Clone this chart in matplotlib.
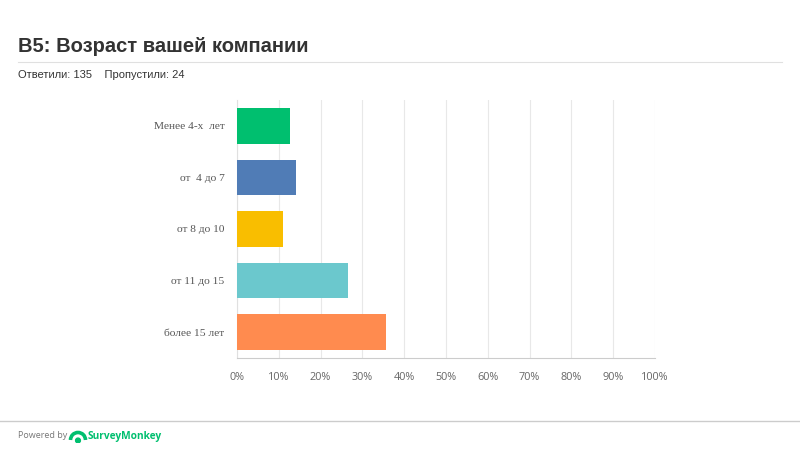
import matplotlib.pyplot as plt
from matplotlib.patches import Arc, Circle
import numpy as np

categories = ['Менее 4-х  лет', 'от  4 до 7', 'от 8 до 10', 'от 11 до 15', 'более 15 лет']
counts = [17, 19, 15, 36, 48]
answered = 135
skipped = 24
colors = ['#00BF6F', '#507CB6', '#F9BE00', '#6BC8CD', '#FF8B4F']
xticks = np.arange(0, 101, 10)

values = [100.0 * c / answered for c in counts]

fig = plt.figure(figsize=(8, 4.5), dpi=100)
fig.patch.set_facecolor('white')

# title block
fig.text(18 / 800, 1 - 47 / 450, 'B5: Возраст вашей компании', fontsize=14.5,
         fontweight='bold', color='#333333', family='Liberation Sans', va='center')
fig.add_artist(plt.Line2D([18 / 800, 782 / 800], [1 - 62 / 450] * 2, color='#e0e0e0', lw=0.8))
fig.text(18 / 800, 1 - 75 / 450, 'Ответили: %d    Пропустили: %d' % (answered, skipped),
         fontsize=8, color='#333333', family='Liberation Sans', va='center')

# chart
ax = fig.add_axes([237 / 800, 1 - 358 / 450, 418 / 800, 258 / 450])
y = np.arange(len(categories))
ax.barh(y, values, height=0.69, color=colors, zorder=3)
ax.set_xlim(0, 100)
ax.set_ylim(len(categories) - 0.5, -0.5)
ax.set_xticks(xticks)
ax.set_xticklabels(['%d%%' % t for t in xticks], family='Open Sans', fontsize=7.8, color='#666666')
ax.set_yticks(y)
ax.set_yticklabels(categories, family='Liberation Serif', fontsize=8.2, color='#555555')
ax.tick_params(axis='both', length=0)
ax.tick_params(axis='x', pad=10)
ax.tick_params(axis='y', pad=9)
ax.grid(axis='x', color='#e8e8e8', lw=0.8, zorder=0)
for s in ['top', 'right']:
    ax.spines[s].set_visible(False)
ax.spines['left'].set_color('#e0e0e0')
ax.spines['bottom'].set_color('#cccccc')

# footer
fig.add_artist(plt.Line2D([0, 1], [1 - 421 / 450] * 2, color='#cccccc', lw=1))
fig.text(18 / 800, 1 - 436 / 450, 'Powered by', fontsize=6.5, color='#777777',
         family='Open Sans', va='center')
fig.text(88 / 800, 1 - 436 / 450, 'SurveyMonkey', fontsize=7.3, color='#00BF6F',
         fontweight='bold', family='Open Sans', va='center')

# small logo mark
lax = fig.add_axes([68 / 800, 1 - 443 / 450, 20 / 800, 14 / 450])
lax.set_xlim(0, 20)
lax.set_ylim(0, 14)
lax.set_aspect('equal')
lax.axis('off')
lax.add_patch(Arc((10, 3), 15, 15, theta1=0, theta2=180, lw=2.6, color='#00BF6F'))
lax.add_patch(Circle((10, 2.5), 2.4, color='#00BF6F'))

fig.savefig('out.png', dpi=100)
